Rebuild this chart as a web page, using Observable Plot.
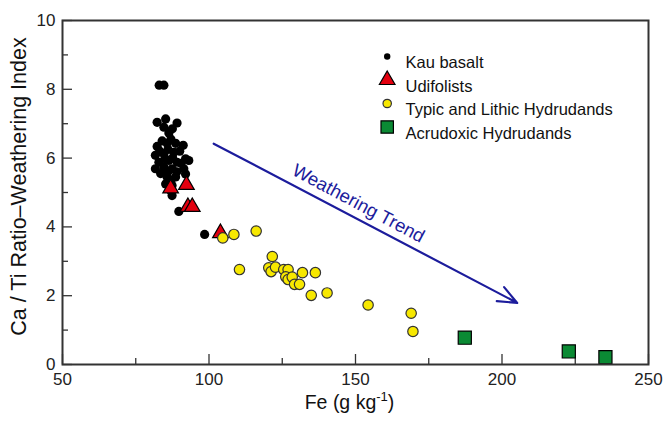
<!DOCTYPE html>
<html>
<head>
<meta charset="utf-8">
<script src="https://cdn.jsdelivr.net/npm/d3@7"></script>
<script src="https://cdn.jsdelivr.net/npm/@observablehq/plot@0.6"></script>
<style>
  html, body { margin: 0; padding: 0; background: #fff; }
  #chart { width: 663px; height: 421px; }
</style>
</head>
<body>
<div id="chart"></div>
<script>
// ---- Data ----
const kauBasalt = [
  [83.0,8.12],[84.6,8.12],
  [82.3,7.04],[85.2,7.14],[89.1,7.02],[84.6,6.90],[86.3,6.73],[87.5,6.85],
  [82.3,6.34],[85.7,6.43],[88.6,6.43],[91.2,6.37],[87.0,6.55],[84.0,6.50],
  [81.7,6.08],[84.6,6.12],[88.0,6.17],[92.0,5.98],[93.1,5.93],[86.0,6.25],[90.0,6.20],[83.2,6.20],
  [82.9,5.88],[86.3,5.93],[89.1,5.88],[85.0,5.98],[87.6,6.00],[90.5,5.85],
  [81.7,5.69],[84.6,5.74],[87.4,5.69],[91.4,5.69],[86.0,5.60],[89.0,5.60],[83.5,5.55],
  [85.7,5.45],[88.6,5.45],[92.0,5.54],[87.0,5.35],
  [85.2,5.25],[87.4,5.20],[86.9,5.06],[87.4,4.91],[89.7,4.45],
  [98.5,3.78]
];
const udifolists = [[86.9,5.12],[92.3,5.22],[92.8,4.58],[94.3,4.58],[103.9,3.82]];
const hydrudands = [
  [104.7,3.68],[108.5,3.78],[116.1,3.88],[121.6,3.14],[110.4,2.76],[120.4,2.81],
  [121.2,2.70],[122.7,2.83],[125.5,2.76],[127.0,2.76],[126.2,2.55],[127.0,2.47],
  [128.4,2.54],[129.2,2.33],[130.9,2.33],[131.9,2.67],[136.3,2.67],[134.9,2.01],
  [140.3,2.08],[154.3,1.73],[169.0,1.49],[169.6,0.96]
];
const acrudoxic = [[187.3,0.78],[222.8,0.38],[235.3,0.21]];
const trend = [{x1: 101.6, y1: 6.42, x2: 205.2, y2: 1.79}];
const trendLabel = [{x: 151.0, y: 4.68, text: "Weathering Trend"}];
const xMajor = [50, 100, 150, 200, 250];
const xMinor = [75, 125, 175, 225];
const yMajor = [0, 2, 4, 6, 8, 10];
const yMinor = [1, 3, 5, 7, 9];
const legendLabels = ["Kau basalt", "Udifolists", "Typic and Lithic Hydrudands", "Acrudoxic Hydrudands"];
const xLabel = "Fe (g kg-1)";
const yLabel = "Ca / Ti Ratio\u2013Weathering Index";

// ---- Styles ----
const W = 663, H = 421;
const mL = 62, mR = 15, mT = 20, mB = 57;
const frameW = W - mL - mR, frameH = H - mT - mB;
const axisColor = "#333";
const blue = "#1c1c9c";
const styles = [
  {symbol: "circle", fill: "#000", stroke: "none", r: 4.6, lr: 3.2},
  {symbol: "triangle", fill: "#e3000f", stroke: "#000", r: 5.8, lr: 5.8},
  {symbol: "circle", fill: "#f7e800", stroke: "#333", r: 5.2, lr: 4.2},
  {symbol: "square", fill: "#0b8a34", stroke: "#000", r: 7.4, lr: 7.0}
];
const series = [kauBasalt, udifolists, hydrudands, acrudoxic];

const marks = [];
// inward ticks
marks.push(Plot.tickX(xMajor, {x: d => d, insetTop: frameH - 10, stroke: axisColor, strokeWidth: 1.3}));
marks.push(Plot.tickX(xMinor, {x: d => d, insetTop: frameH - 6, stroke: axisColor, strokeWidth: 1.3}));
marks.push(Plot.tickY(yMajor, {y: d => d, insetRight: frameW - 10, stroke: axisColor, strokeWidth: 1.3}));
marks.push(Plot.tickY(yMinor, {y: d => d, insetRight: frameW - 6, stroke: axisColor, strokeWidth: 1.3}));

// data points
series.forEach((data, i) => {
  const s = styles[i];
  marks.push(Plot.dot(data, {x: d => d[0], y: d => d[1], symbol: s.symbol, r: s.r,
    fill: s.fill, stroke: s.stroke, strokeWidth: 1.2}));
});

// arrow + label
marks.push(Plot.arrow(trend, {x1: "x1", y1: "y1", x2: "x2", y2: "y2", stroke: blue,
  strokeWidth: 2.2, headLength: 14, headAngle: 45}));
marks.push(Plot.text(trendLabel, {x: "x", y: "y", text: "text", rotate: 28, fill: blue,
  fontSize: 18.5}));

// legend
legendLabels.forEach((label, i) => {
  const s = styles[i];
  const dy = 36 + i * 23.5;
  marks.push(Plot.dot([label], {frameAnchor: "top-left", dx: 324.7, dy, symbol: s.symbol, r: s.lr,
    fill: s.fill, stroke: s.stroke, strokeWidth: 1.2}));
  marks.push(Plot.text([label], {frameAnchor: "top-left", dx: 343, dy, text: d => d,
    textAnchor: "start", fontSize: 16.5, fill: "#111"}));
});

// axis titles
marks.push(Plot.text([yLabel], {frameAnchor: "left", dx: -43, dy: -6, rotate: -90, text: d => d,
  textAnchor: "middle", fontSize: 21.5, fill: "#111"}));
marks.push(Plot.text([xLabel], {frameAnchor: "bottom", dx: -6, dy: 44, text: d => d,
  textAnchor: "middle", fontSize: 19.5, fill: "#111", className: "xlabel"}));

marks.push(Plot.frame({stroke: axisColor, strokeWidth: 2}));

const chart = Plot.plot({
  width: W, height: H,
  marginLeft: mL, marginRight: mR, marginTop: mT, marginBottom: mB,
  style: {fontFamily: "'Liberation Sans', Arial, sans-serif", fontSize: "17px", color: "#222", background: "#fff"},
  x: {domain: [50, 250], ticks: xMajor, tickSize: 0, tickPadding: 8, label: null},
  y: {domain: [0, 10], ticks: yMajor, tickSize: 0, tickPadding: 7, label: null},
  marks
});
document.getElementById("chart").appendChild(chart);

// superscript for the x label
const xl = chart.querySelector(".xlabel text");
if (xl) {
  const base = xLabel.replace("-1", "").replace(")", "");
  xl.textContent = base;
  const sup = document.createElementNS("http://www.w3.org/2000/svg", "tspan");
  sup.setAttribute("dy", "-8");
  sup.setAttribute("font-size", "13");
  sup.textContent = "-1";
  const close = document.createElementNS("http://www.w3.org/2000/svg", "tspan");
  close.setAttribute("dy", "8");
  close.textContent = ")";
  xl.appendChild(sup);
  xl.appendChild(close);
}
</script>
</body>
</html>
